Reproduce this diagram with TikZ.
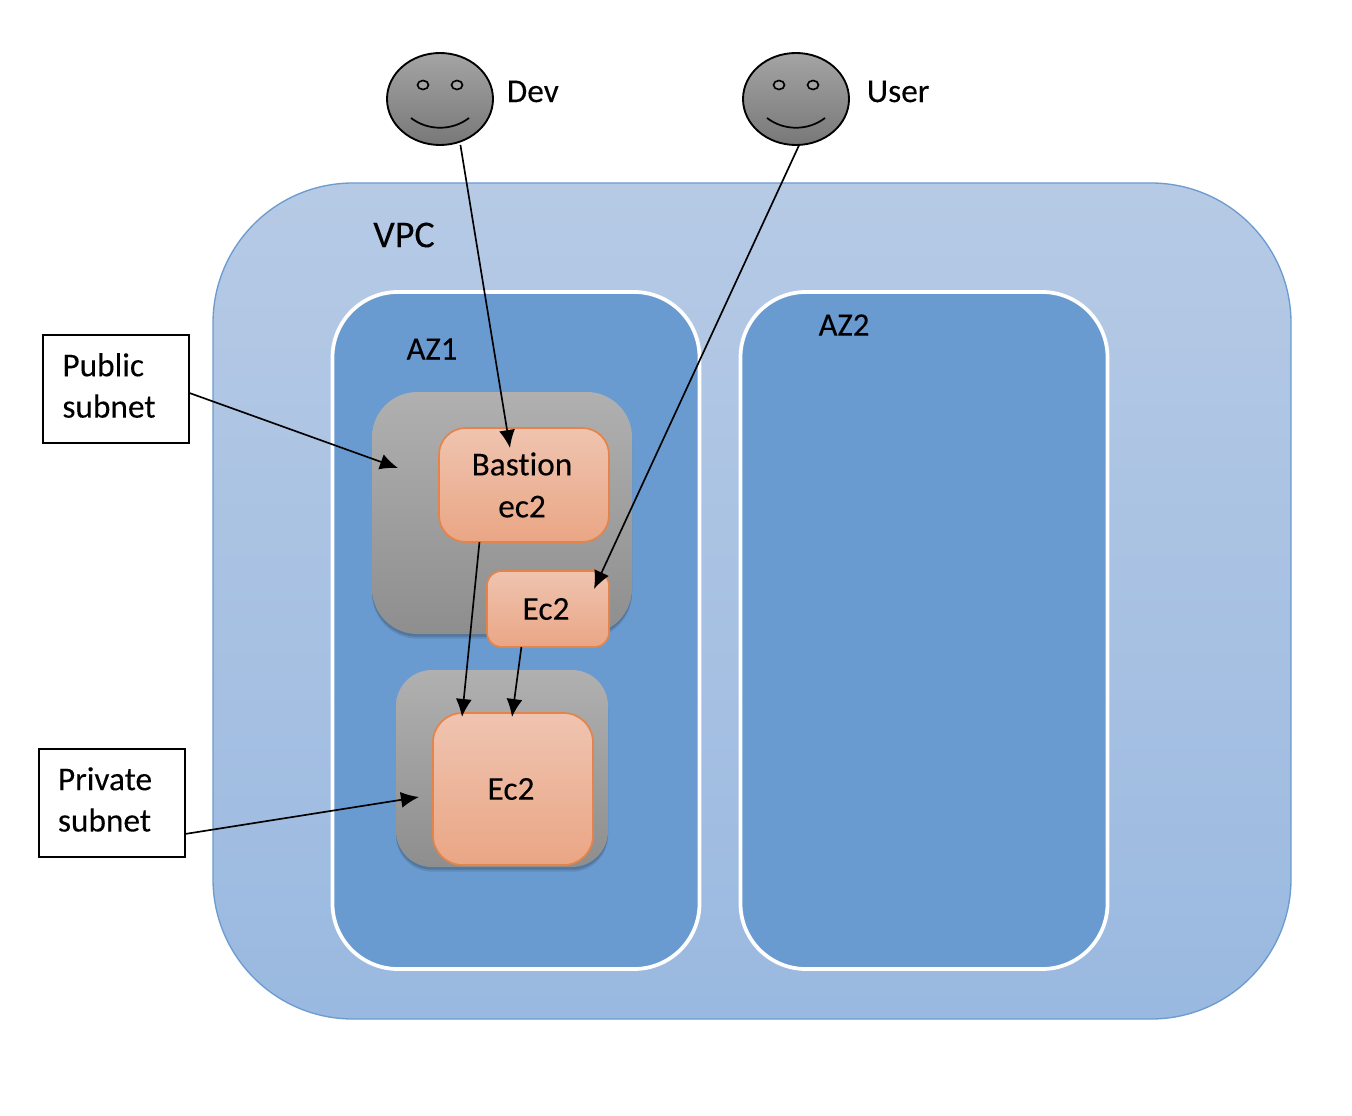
\documentclass[tikz,border=0pt]{standalone}
\usepackage{fontspec}
\setmainfont{Carlito}[FakeBold=0.1,Ligatures=NoCommon]
\usetikzlibrary{shapes.geometric,shadows,arrows.meta}
\definecolor{vpcTop}{HTML}{B6CAE5}
\definecolor{vpcBot}{HTML}{9AB9E0}
\definecolor{vpcLine}{HTML}{6C9BD0}
\definecolor{azFill}{HTML}{6A9BD0}
\definecolor{grayTop}{HTML}{B0B0B0}
\definecolor{grayBot}{HTML}{8E8E8E}
\definecolor{orTop}{HTML}{EFC4B0}
\definecolor{orBot}{HTML}{EAA685}
\definecolor{orLine}{HTML}{E5844A}
\definecolor{faceTop}{HTML}{A4A4A4}
\definecolor{faceBot}{HTML}{787878}
\tikzset{
  sized/.style n args={2}{minimum width=#1*.75pt,minimum height=#2*.75pt,inner sep=0pt,outer sep=0pt},
  vpcbox/.style={sized={1078}{836},rounded corners=105pt,draw=vpcLine,line width=1pt,top color=vpcTop,bottom color=vpcBot},
  azbox/.style={sized={367}{677},rounded corners=49pt,draw=white,line width=2.8pt,fill=azFill},
  subnetbox/.style={rounded corners=#1,top color=grayTop,bottom color=grayBot,
    general shadow={shadow xshift=0pt,shadow yshift=-3.5pt,opacity=.10,fill=black},
    general shadow={shadow xshift=0pt,shadow yshift=-2pt,opacity=.14,fill=black}},
  ec2box/.style={rounded corners=#1,draw=orLine,line width=1.3pt,top color=orTop,bottom color=orBot,align=center,font=\fontsize{25}{31.5}\selectfont},
  callout/.style={sized={146}{108},draw=black,line width=1pt,fill=white},
  face/.style={shape=ellipse,sized={106}{92},draw=black,line width=1.4pt,top color=faceTop,bottom color=faceBot},
  eye/.style={shape=ellipse,sized={11}{9},draw=black,line width=1.2pt,fill=faceTop},
  lbl/.style={inner sep=0pt,font=\fontsize{25}{31}\selectfont,align=left},
  bigl/.style={inner sep=0pt,font=\fontsize{28.5}{34}\selectfont},
  azl/.style={inner sep=0pt,font=\fontsize{24.5}{30}\selectfont},
  conn/.style={draw=black,line width=1.25pt,-{Latex[length=13.5pt,width=12pt]}},
}
\begin{document}
\begin{tikzpicture}[x=.75pt,y=-.75pt]
\useasboundingbox (0,0) rectangle (1352,1116);
% containers
\node[vpcbox] (vpc) at (752,601) {};
\node[azbox] (az1) at (516,630.5) {};
\node[azbox] (az2) at (924,630.5) {};
\node[subnetbox=34pt,sized={260}{242}] (pubnet) at (502,513) {};
\node[subnetbox=27pt,sized={212}{197}] (privnet) at (502,768.5) {};
% instances
\node[ec2box=20pt,sized={170}{114}] (bastion) at (524,485) {Bastion\kern3pt\\ec2\kern3pt};
\node[ec2box=11pt,sized={122}{76}] (ectop) at (548,609) {Ec2\kern3pt};
\node[ec2box=22pt,sized={160}{152}] (ecbot) at (513,789) {Ec2\kern3pt};
% labels
\node[bigl] (vpcl) at (404,235) {VPC};
\node[azl] (az1l) at (432,349) {AZ1};
\node[azl] (az2l) at (844,325) {AZ2};
% people
\node[face] (dev) at (440,99) {};
\node[eye] (deve1) at (423,85) {};
\node[eye] (deve2) at (457,85) {};
\coordinate (devsl) at (411,118);
\coordinate (devsr) at (469,118);
\draw[line width=1.3pt] (devsl) .. controls (428,131) and (452,131) .. (devsr);
\node[lbl,anchor=west] (devl) at (506.5,91.5) {Dev};
\node[face] (user) at (796,99) {};
\node[eye] (usere1) at (779,85) {};
\node[eye] (usere2) at (813,85) {};
\coordinate (usersl) at (767,118);
\coordinate (usersr) at (825,118);
\draw[line width=1.3pt] (usersl) .. controls (784,131) and (808,131) .. (usersr);
\node[lbl,anchor=west] (userl) at (866.5,91.5) {User};
% callouts
\node[callout] (pub) at (116,389) {};
\node[lbl] (publ) at (109,385.5) {Public\\subnet};
\node[callout] (priv) at (112,803) {};
\node[lbl] (privl) at (105,799.5) {Private\\subnet};
% arrow ends
\coordinate (e1) at (510,448);
\coordinate (e2) at (594,589);
\coordinate (e3) at (398,468);
\coordinate (e4) at (419,797);
\coordinate (e5) at (462,717);
\coordinate (e6) at (512,717);
\draw[conn,shorten <=2.5pt] (dev.-65) -- (e1);
\draw[conn] (user.-86) -- (e2);
\draw[conn] (pub.-3) -- (e3);
\draw[conn] (priv.-23) -- (e4);
\draw[conn] (bastion.-128.3) -- (e5);
\draw[conn] (ectop.-125.4) -- (e6);
\end{tikzpicture}
\end{document}
